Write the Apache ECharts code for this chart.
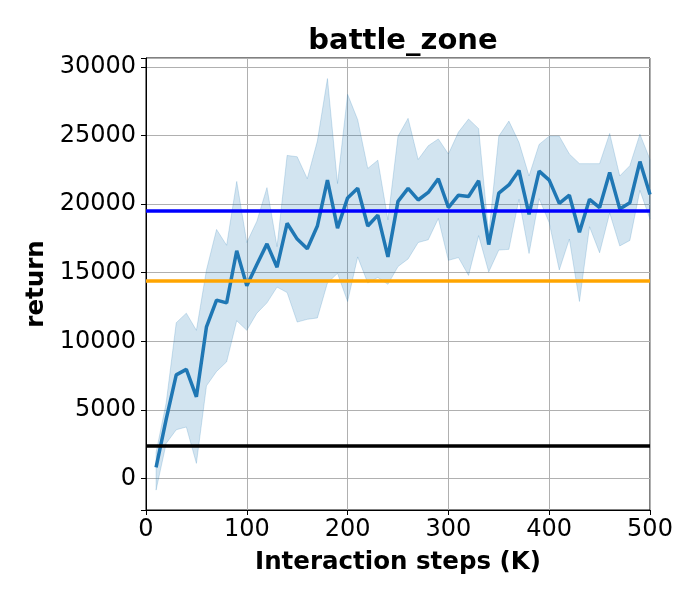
<!DOCTYPE html>
<html>
<head>
<meta charset="utf-8">
<script src="https://cdn.jsdelivr.net/npm/echarts@6/dist/echarts.min.js"></script>
<style>
  html, body { margin: 0; padding: 0; background: #fff; }
  #chart { width: 700px; height: 600px; }
</style>
</head>
<body>
<div id="chart"></div>
<script>
// training steps (K) and return curves
const steps = [10, 20, 30, 40, 50, 60, 70, 80, 90, 100,
  110, 120, 130, 140, 150, 160, 170, 180, 190, 200,
  210, 220, 230, 240, 250, 260, 270, 280, 290, 300,
  310, 320, 330, 340, 350, 360, 370, 380, 390, 400,
  410, 420, 430, 440, 450, 460, 470, 480, 490, 500];

const meanReturn = [800, 4300, 7550, 7950, 5950, 11050, 13000, 12800, 16600, 14050,
  15600, 17100, 15400, 18600, 17450, 16750, 18400, 21750, 18250, 20450,
  21150, 18400, 19200, 16150, 20200, 21150, 20300, 20850, 21850, 19750,
  20650, 20550, 21700, 17050, 20800, 21400, 22450, 19250, 22400, 21750,
  20050, 20650, 17950, 20350, 19750, 22300, 19650, 20100, 23100, 20700];

const upperReturn = [1900, 5500, 11350, 12050, 10800, 15200, 18150, 17000, 21650, 17200,
  18750, 21200, 16900, 23550, 23450, 21850, 24600, 29150, 21500, 28000,
  26150, 22600, 23200, 18850, 24950, 26250, 23250, 24250, 24750, 23650,
  25250, 26200, 25500, 17800, 24950, 26050, 24500, 22050, 24350, 24950,
  24950, 23650, 22950, 22950, 22950, 25150, 22050, 22800, 25100, 23250];

const lowerReturn = [-850, 2550, 3550, 3750, 1100, 6750, 7800, 8500, 11500, 10800,
  12050, 12800, 13950, 13550, 11400, 11600, 11700, 14250, 14950, 12900,
  16150, 14250, 14650, 14150, 15450, 16000, 17200, 17400, 18950, 15900,
  16100, 14800, 17700, 15050, 16650, 16700, 20350, 16400, 20400, 18650,
  15200, 17450, 12900, 18350, 16450, 19350, 16950, 17350, 21000, 18900];

// reference scores (horizontal lines)
const refLines = [
  { value: 19500, color: "#0000ff" },
  { value: 14400, color: "#ffa500" },
  { value: 2360, color: "#000000" },
];

const xTicks = { min: 0, max: 500, interval: 100 };
const yRange = { min: -2300, max: 30650 };

const FONT = "DejaVu Sans";
const bandColor = "rgba(31,119,180,0.2)";

const chart = echarts.init(document.getElementById("chart"), null, { renderer: "canvas" });

const meanPts = steps.map((s, i) => [s, meanReturn[i]]);

// fill_between-like band: one polygon, upper edge forward then lower edge back
const renderBand = (params, api) => {
  const pts = [];
  for (let i = 0; i < steps.length; i++) pts.push(api.coord([steps[i], upperReturn[i]]));
  for (let i = steps.length - 1; i >= 0; i--) pts.push(api.coord([steps[i], lowerReturn[i]]));
  return {
    type: "polygon",
    shape: { points: pts },
    style: { fill: bandColor, stroke: bandColor, lineWidth: 1 },
    silent: true,
  };
};

const option = {
  animation: false,
  backgroundColor: "#fff",
  textStyle: { fontFamily: FONT },
  title: {
    text: "battle_zone",
    left: 398,
    textAlign: "center",
    top: 22,
    textStyle: { fontFamily: FONT, fontSize: 29, fontWeight: "bold", color: "#000" },
  },
  grid: {
    left: 146,
    right: 50,
    top: 58,
    bottom: 90,
    show: true,
    borderColor: "#000",
    borderWidth: 1,
    backgroundColor: "transparent",
  },
  xAxis: {
    type: "value",
    min: xTicks.min,
    max: xTicks.max,
    interval: xTicks.interval,
    name: "Interaction steps (K)",
    nameLocation: "middle",
    nameGap: 40,
    nameTextStyle: { fontFamily: FONT, fontSize: 24.5, fontWeight: "bold", color: "#000" },
    axisLine: { show: true, onZero: false, lineStyle: { color: "#000", width: 1 } },
    axisTick: { show: true, inside: false, length: 5, lineStyle: { color: "#000", width: 1 } },
    axisLabel: { fontFamily: FONT, fontSize: 24, color: "#000", margin: 8 },
    splitLine: { show: true, lineStyle: { color: "#b0b0b0", width: 1 } },
  },
  yAxis: {
    type: "value",
    min: yRange.min,
    max: yRange.max,
    splitNumber: 6,
    name: "return",
    nameLocation: "middle",
    nameGap: 94,
    nameTextStyle: { fontFamily: FONT, fontSize: 24.5, fontWeight: "bold", color: "#000" },
    axisLine: { show: true, onZero: false, lineStyle: { color: "#000", width: 1 } },
    axisTick: { show: true, inside: false, length: 5, lineStyle: { color: "#000", width: 1 } },
    axisLabel: {
      fontFamily: FONT, fontSize: 24, color: "#000", margin: 10,
      formatter: (v) => (v % 5000 === 0 ? String(v) : ""),
    },
    splitLine: { show: true, lineStyle: { color: "#b0b0b0", width: 1 } },
  },
  series: [
    {
      type: "custom",
      renderItem: renderBand,
      data: [0],
      silent: true,
      z: 2,
    },
    {
      type: "line",
      data: meanPts,
      symbol: "none",
      lineStyle: { color: "#1f77b4", width: 3.5 },
      z: 3,
    },
    {
      // reference score lines, drawn above the curve
      type: "line",
      data: [],
      z: 4,
      markLine: {
        silent: true,
        symbol: "none",
        label: { show: false },
        animation: false,
        data: refLines.map((r) => ({
          yAxis: r.value,
          lineStyle: { color: r.color, width: 3.5, type: "solid" },
        })),
      },
    },
  ],
};

chart.setOption(option);
</script>
</body>
</html>
